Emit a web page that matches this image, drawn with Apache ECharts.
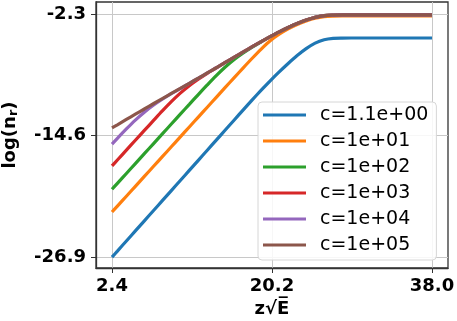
<!DOCTYPE html>
<html>
<head>
<meta charset="utf-8">
<script src="https://cdn.jsdelivr.net/npm/echarts@6/dist/echarts.min.js"></script>
<style>
  html, body { margin: 0; padding: 0; background: #fff; }
  #main { width: 457px; height: 321px; }
</style>
</head>
<body>
<div id="main"></div>
<script>
// values
var names = ['c=1.1e+00', 'c=1e+01', 'c=1e+02', 'c=1e+03', 'c=1e+04', 'c=1e+05'];
var colors = ['#1f77b4', '#ff7f0e', '#2ca02c', '#d62728', '#9467bd', '#8c564b'];
var xs = [2.4, 3, 4, 5, 6, 7, 8, 9, 10, 11, 12, 13, 14, 15, 16, 17, 18, 19, 20, 21, 22, 23, 24, 25, 26, 27, 28, 30, 34, 38];
var xTicks = [2.4, 20.2, 38.0];
var yTicks = [-26.9, -14.6, -2.3];

var c0 = [-26.9, -26.29, -25.27, -24.25, -23.23, -22.21, -21.19, -20.17, -19.15, -18.13, -17.11, -16.09, -15.07, -14.05, -13.03, -12.01, -11.0, -10.02, -9.07, -8.17, -7.32, -6.52, -5.82, -5.26, -4.92, -4.78, -4.75, -4.74, -4.74, -4.74];
var c1 = [-22.34, -21.74, -20.74, -19.74, -18.74, -17.74, -16.74, -15.74, -14.74, -13.74, -12.74, -11.74, -10.74, -9.74, -8.75, -7.76, -6.79, -5.86, -5.02, -4.36, -3.82, -3.38, -3.03, -2.75, -2.58, -2.52, -2.5, -2.5, -2.5, -2.5];
var c2 = [-20.04, -19.44, -18.44, -17.44, -16.44, -15.44, -14.44, -13.44, -12.44, -11.45, -10.46, -9.49, -8.55, -7.68, -6.92, -6.26, -5.67, -5.12, -4.61, -4.12, -3.68, -3.28, -2.93, -2.65, -2.48, -2.42, -2.4, -2.4, -2.4, -2.4];
var c3 = [-17.68, -17.08, -16.08, -15.08, -14.09, -13.10, -12.12, -11.18, -10.32, -9.56, -8.91, -8.31, -7.77, -7.21, -6.68, -6.15, -5.62, -5.1, -4.6, -4.12, -3.68, -3.28, -2.93, -2.65, -2.48, -2.42, -2.4, -2.4, -2.4, -2.4];
var c4 = [-15.48, -14.89, -13.94, -13.04, -12.24, -11.54, -10.93, -10.37, -9.85, -9.32, -8.8, -8.27, -7.75, -7.21, -6.68, -6.15, -5.62, -5.1, -4.6, -4.12, -3.68, -3.28, -2.93, -2.65, -2.48, -2.42, -2.4, -2.4, -2.4, -2.4];
var c5 = [-13.84, -13.52, -12.98, -12.45, -11.92, -11.39, -10.87, -10.35, -9.84, -9.32, -8.8, -8.27, -7.75, -7.21, -6.68, -6.15, -5.62, -5.1, -4.6, -4.12, -3.68, -3.28, -2.93, -2.65, -2.48, -2.42, -2.4, -2.4, -2.4, -2.4];
var ys = [c0, c1, c2, c3, c4, c5];

var series = ys.map(function (arr, i) {
    return {
        name: names[i],
        type: 'line',
        data: xs.map(function (x, j) { return [x, arr[j]]; }),
        showSymbol: false,
        symbol: 'none',
        smooth: 0.3,
        lineStyle: { width: 3.2, color: colors[i] },
        itemStyle: { color: colors[i] }
    };
});

var myChart = echarts.init(document.getElementById('main'));
var option = {
    animation: false,
    textStyle: { fontFamily: 'DejaVu Sans' },
    grid: {
        left: 96, right: 9, top: 2, bottom: 53,
        outerBoundsMode: 'none',
        show: true, borderColor: '#333', borderWidth: 1.3
    },
    legend: {
        orient: 'vertical',
        left: 258, top: 102,
        itemWidth: 43, itemHeight: 14, itemGap: 6,
        padding: [3, 8, 5, 5],
        backgroundColor: 'rgba(255,255,255,0.85)',
        borderColor: '#d6d6d6', borderWidth: 1, borderRadius: 4,
        icon: 'path://M0,6 L43,6 L43,9 L0,9 Z',
        textStyle: { fontSize: 19, color: '#000', lineHeight: 20, padding: [0, 0, 0, 9], fontFamily: 'DejaVu Sans' },
        data: names
    },
    xAxis: {
        type: 'value',
        min: 0.62, max: 39.78,
        name: 'z√E\u0305',
        nameLocation: 'middle',
        nameGap: 26,
        nameTextStyle: { fontSize: 18, fontWeight: 'bold', color: '#000' },
        axisLine: { show: true, lineStyle: { color: '#333', width: 1.3 } },
        axisTick: { show: true, length: 5, customValues: xTicks, lineStyle: { color: '#333' } },
        axisLabel: {
            customValues: xTicks, margin: 9,
            fontSize: 18, fontWeight: 'bold', color: '#000',
            formatter: function (v) { return v.toFixed(1); }
        },
        splitLine: { show: true, lineStyle: { color: '#c8c8c8', width: 1 } }
    },
    yAxis: {
        type: 'value',
        min: -28.0, max: -1.1,
        name: 'log(n{s|r})',
        nameLocation: 'middle',
        nameGap: 76,
        nameRotate: 90,
        nameTextStyle: {
            fontSize: 18, fontWeight: 'bold', color: '#000',
            rich: { s: { fontSize: 13, fontWeight: 'bold', color: '#000', padding: [6, 0, 0, 0] } }
        },
        axisLine: { show: true, lineStyle: { color: '#333', width: 1.3 } },
        axisTick: { show: true, length: 5, customValues: yTicks, lineStyle: { color: '#333' } },
        axisLabel: {
            customValues: yTicks, margin: 10,
            fontSize: 18, fontWeight: 'bold', color: '#000',
            formatter: function (v) { return v.toFixed(1); }
        },
        splitLine: { show: true, lineStyle: { color: '#c8c8c8', width: 1 } }
    },
    series: series
};
myChart.setOption(option);
</script>
</body>
</html>
